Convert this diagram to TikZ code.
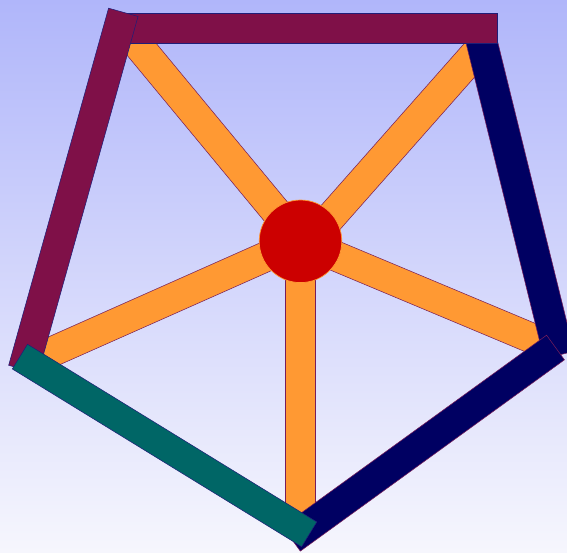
\documentclass[tikz,border=0pt]{standalone}
\usetikzlibrary{calc}
\definecolor{bgtop}{RGB}{176,182,250}
\definecolor{bgbot}{RGB}{246,246,253}
\definecolor{rodmaroon}{RGB}{127,16,72}
\definecolor{rodnavy}{RGB}{0,0,98}
\definecolor{rodteal}{RGB}{0,102,102}
\definecolor{spokeorange}{RGB}{255,153,51}
\definecolor{hubred}{RGB}{204,0,0}
\definecolor{edgeblue}{RGB}{30,30,120}
\definecolor{edgeplum}{RGB}{120,30,90}

% rectangle of half width #4 from end centre #1 to end centre #2
\newcommand{\rod}[4]{%
  \path[#3] ($(#1)!#4!90:(#2)$) -- ($(#1)!#4!-90:(#2)$)
    -- ($(#2)!#4!90:(#1)$) -- ($(#2)!#4!-90:(#1)$) -- cycle;}

\tikzset{
  spoke/.style={fill=spokeorange,draw=edgeplum,line width=0.3pt},
  maroonrod/.style={fill=rodmaroon,draw=edgeblue,line width=0.3pt},
  navyrod/.style={fill=rodnavy,draw=edgeplum,line width=0.3pt},
  tealrod/.style={fill=rodteal,draw=edgeblue,line width=0.3pt},
  hub/.style={circle,fill=hubred,draw=spokeorange,line width=0.4pt,
    minimum size=1.652cm,inner sep=0pt}
}

\begin{document}
\begin{tikzpicture}[x=0.02cm,y=-0.02cm]
\shade[top color=bgtop,bottom color=bgbot] (0,0) rectangle (567,552);
\useasboundingbox (0,0) rectangle (567,552);
% hub and spoke ends
\coordinate (hubc) at (300.5,241.3);
\coordinate (hubtr) at (309.5,241.3);
\coordinate (sTL) at (124,28);
\coordinate (sTR) at (478.5,50);
\coordinate (sR) at (548,345);
\coordinate (sB) at (300.5,530);
\coordinate (sL) at (30,361.5);
% rod ends
\coordinate (rTa) at (110,28.2);
\coordinate (rTb) at (497.3,28.2);
\coordinate (rRa) at (476.3,20);
\coordinate (rRb) at (559,355);
\coordinate (rLa) at (123.3,12.3);
\coordinate (rLb) at (23.4,369.4);
\coordinate (rBRa) at (555.5,347.5);
\coordinate (rBRb) at (291.4,538.8);
\coordinate (rBLa) at (19.9,356.6);
\coordinate (rBLb) at (309.2,534.3);
% spokes
\rod{hubc}{sTL}{spoke}{0.3cm}
\rod{hubtr}{sTR}{spoke}{0.3cm}
\rod{hubc}{sR}{spoke}{0.3cm}
\rod{hubc}{sB}{spoke}{0.3cm}
\rod{hubc}{sL}{spoke}{0.3cm}
\node[hub] (hub) at (hubc) {};
% rim
\rod{rRa}{rRb}{navyrod}{0.31cm}
\rod{rTa}{rTb}{maroonrod}{0.296cm}
\rod{rLa}{rLb}{maroonrod}{0.306cm}
\rod{rBRa}{rBRb}{navyrod}{0.304cm}
\rod{rBLa}{rBLb}{tealrod}{0.29cm}
\end{tikzpicture}
\end{document}
